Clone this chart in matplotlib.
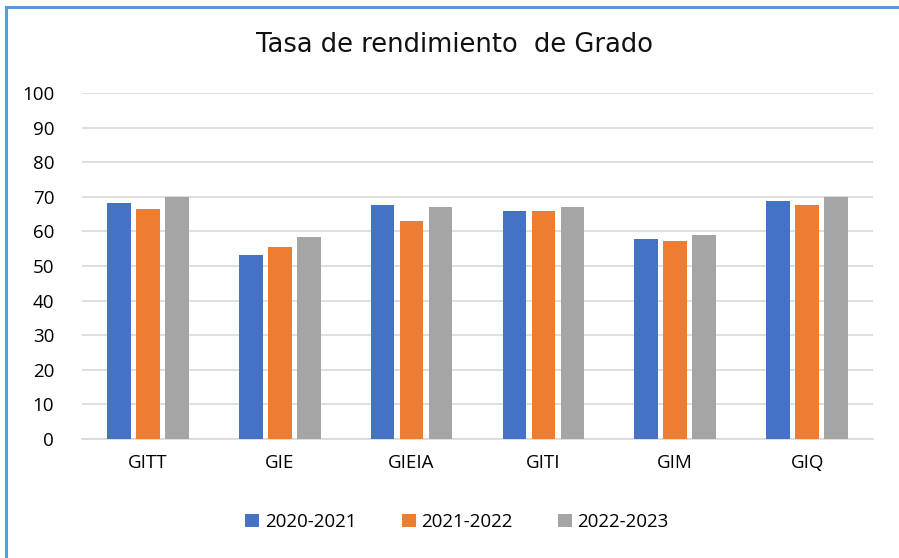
import matplotlib.pyplot as plt
import matplotlib.patches as mpatches
import numpy as np

categories = ['GITT', 'GIE', 'GIEIA', 'GITI', 'GIM', 'GIQ']
series_names = ['2020-2021', '2021-2022', '2022-2023']
v2020 = [68.2, 53.2, 67.6, 65.9, 57.8, 68.8]
v2021 = [66.5, 55.5, 63.0, 65.9, 57.2, 67.6]
v2022 = [70.0, 58.4, 67.1, 67.1, 59.0, 70.0]
colors = ['#4472C4', '#ED7D31', '#A5A5A5']

plt.rcParams['font.family'] = ['Open Sans', 'DejaVu Sans']

fig = plt.figure(figsize=(8.99, 5.58), dpi=100)
fig.patch.set_facecolor('white')

# chart border (only left/top visible in the reference)
fig.add_artist(mpatches.Rectangle((6 / 899, -0.05), 1.2, 1.05 - 7 / 558,
                                  transform=fig.transFigure, fill=False,
                                  edgecolor='#5B9BD5', linewidth=2.2))

ax = fig.add_axes([82 / 899, 1 - 439 / 558, 791 / 899, 346 / 558])

x = np.arange(len(categories))
step = 0.22
width = 0.18
for i, (vals, name) in enumerate(zip([v2020, v2021, v2022], series_names)):
    ax.bar(x + (i - 1) * step, vals, width, color=colors[i], label=name, zorder=3)

ax.set_xlim(-0.5, len(categories) - 0.5)
ax.set_ylim(0, 100)
ax.set_yticks(range(0, 101, 10))
ax.set_xticks(x)
ax.set_xticklabels(categories)
ax.yaxis.grid(True, color='#D9D9D9', linewidth=1.2, zorder=0)
for s in ['top', 'right', 'left']:
    ax.spines[s].set_visible(False)
ax.spines['bottom'].set_color('#D9D9D9')
ax.spines['bottom'].set_linewidth(1.2)
ax.tick_params(axis='both', length=0, labelsize=13.5, colors='black')
ax.tick_params(axis='y', pad=20)
ax.tick_params(axis='x', pad=11)

fig.text(454 / 899, 1 - 45 / 558, 'Tasa de rendimiento  de Grado',
         ha='center', va='center', fontsize=18.5, family='DejaVu Sans',
         color='#111111')

fig.legend(loc='center', bbox_to_anchor=(457 / 899, 1 - 522 / 558), ncol=3,
           frameon=False, fontsize=13.5, handlelength=0.75, handleheight=0.75,
           handletextpad=0.3, columnspacing=2.4)

fig.savefig('out.png', dpi=100)
